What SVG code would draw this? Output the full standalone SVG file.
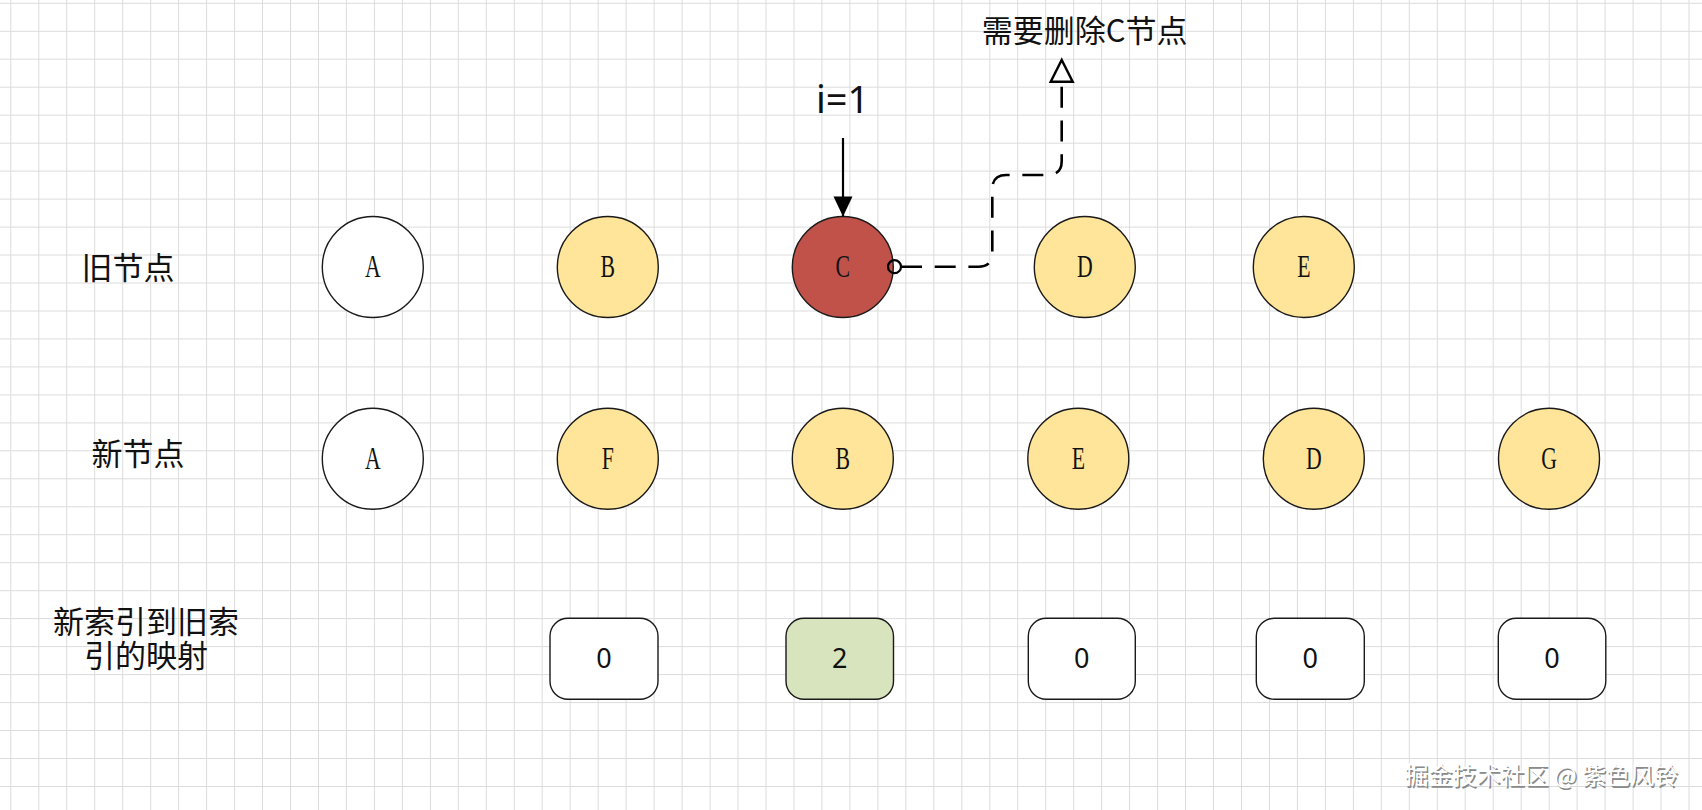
<svg xmlns="http://www.w3.org/2000/svg" width="1702" height="810" viewBox="0 0 1702 810">
<style>
.grid{stroke:#dcdcdc;stroke-width:1;fill:none}
.circ{stroke:#1a1a1a;stroke-width:1.4}
.white{fill:#ffffff}
.yellow{fill:#ffe599}
.red{fill:#c0524a}
.green{fill:#d7e4bd}
.box{stroke:#1a1a1a;stroke-width:1.4}
.letter{font-family:"Liberation Serif",serif;font-size:32px;fill:#111;text-anchor:middle}
.num{font-family:"Noto Sans","Noto Sans CJK SC",sans-serif;font-size:27px;fill:#111;text-anchor:middle}
.cjk{font-family:"Noto Sans CJK SC",sans-serif;font-size:31px;fill:#111;text-anchor:middle}
.big{font-family:"Noto Sans","Noto Sans CJK SC",sans-serif;font-size:38px;fill:#111;text-anchor:middle}
.solid{stroke:#000;stroke-width:2.2;fill:none}
.dashed{stroke:#000;stroke-width:2.6;fill:none;stroke-dasharray:21 12.7}
.wm{font-family:"Noto Sans CJK SC",sans-serif;font-size:24px;text-anchor:end}
</style>
<defs>
<marker id="arrowFilled" markerUnits="userSpaceOnUse" viewBox="-21 -11 23 22" markerWidth="23" markerHeight="22" refX="0" refY="0" orient="auto">
<path d="M-20,-9.5 L0,0 L-20,9.5 Z" fill="#000" stroke="none"/>
</marker>
<marker id="arrowOpen" markerUnits="userSpaceOnUse" viewBox="-3 -14 28 28" markerWidth="28" markerHeight="28" refX="0" refY="0" orient="auto">
<path d="M0,-11 L21.7,0 L0,11 Z" fill="#fff" stroke="#000" stroke-width="2.4" stroke-dasharray="none" stroke-linejoin="miter"/>
</marker>
<marker id="ovalStart" markerUnits="userSpaceOnUse" viewBox="-10 -10 20 20" markerWidth="20" markerHeight="20" refX="6.5" refY="0" orient="auto">
<circle cx="0" cy="0" r="6.5" fill="none" stroke="#000" stroke-width="2.2" stroke-dasharray="none"/>
</marker>
</defs>
<rect width="1702" height="810" fill="#ffffff"/>
<path class="grid" d="M10.8 0V810M38.8 0V810M66.7 0V810M94.7 0V810M122.7 0V810M150.7 0V810M178.6 0V810M206.6 0V810M234.6 0V810M262.5 0V810M290.5 0V810M318.5 0V810M346.4 0V810M374.4 0V810M402.4 0V810M430.4 0V810M458.3 0V810M486.3 0V810M514.3 0V810M542.2 0V810M570.2 0V810M598.2 0V810M626.1 0V810M654.1 0V810M682.1 0V810M710.1 0V810M738 0V810M766 0V810M794 0V810M821.9 0V810M849.9 0V810M877.9 0V810M905.8 0V810M933.8 0V810M961.8 0V810M989.8 0V810M1017.7 0V810M1045.7 0V810M1073.7 0V810M1101.6 0V810M1129.6 0V810M1157.6 0V810M1185.5 0V810M1213.5 0V810M1241.5 0V810M1269.5 0V810M1297.4 0V810M1325.4 0V810M1353.4 0V810M1381.3 0V810M1409.3 0V810M1437.3 0V810M1465.2 0V810M1493.2 0V810M1521.2 0V810M1549.2 0V810M1577.1 0V810M1605.1 0V810M1633.1 0V810M1661 0V810M1689 0V810M0 3.3H1702M0 31.3H1702M0 59.2H1702M0 87.2H1702M0 115.2H1702M0 143.2H1702M0 171.1H1702M0 199.1H1702M0 227.1H1702M0 255H1702M0 283H1702M0 311H1702M0 338.9H1702M0 366.9H1702M0 394.9H1702M0 422.9H1702M0 450.8H1702M0 478.8H1702M0 506.8H1702M0 534.7H1702M0 562.7H1702M0 590.7H1702M0 618.6H1702M0 646.6H1702M0 674.6H1702M0 702.6H1702M0 730.5H1702M0 758.5H1702M0 786.5H1702"/>

<g id="label-old"><text class="cjk" x="128" y="278.5">旧节点</text></g>
<g id="label-new"><text class="cjk" x="138" y="464.6">新节点</text></g>
<g id="label-map"><text class="cjk"><tspan x="146" y="633">新索引到旧索</tspan><tspan x="146" y="667">引的映射</tspan></text></g>
<g id="label-i"><text class="big" x="842.7" y="113.3">i=1</text></g>
<g id="label-delete"><text class="cjk" x="1084.7" y="41.8">需要删除C节点</text></g>

<g id="old-A"><circle class="circ white" cx="372.8" cy="267" r="50.5"/><text class="letter" transform="translate(372.8 277) scale(0.68 1)">A</text></g>
<g id="old-B"><circle class="circ yellow" cx="607.8" cy="267" r="50.5"/><text class="letter" transform="translate(607.8 277) scale(0.68 1)">B</text></g>
<g id="old-C"><circle class="circ red" cx="842.8" cy="267" r="50.5"/><text class="letter" transform="translate(842.8 277) scale(0.68 1)">C</text></g>
<g id="old-D"><circle class="circ yellow" cx="1084.8" cy="267" r="50.5"/><text class="letter" transform="translate(1084.8 277) scale(0.68 1)">D</text></g>
<g id="old-E"><circle class="circ yellow" cx="1303.8" cy="267" r="50.5"/><text class="letter" transform="translate(1303.8 277) scale(0.68 1)">E</text></g>

<g id="new-A"><circle class="circ white" cx="372.8" cy="458.8" r="50.5"/><text class="letter" transform="translate(372.8 468.8) scale(0.68 1)">A</text></g>
<g id="new-F"><circle class="circ yellow" cx="607.8" cy="458.8" r="50.5"/><text class="letter" transform="translate(607.8 468.8) scale(0.68 1)">F</text></g>
<g id="new-B"><circle class="circ yellow" cx="842.8" cy="458.8" r="50.5"/><text class="letter" transform="translate(842.8 468.8) scale(0.68 1)">B</text></g>
<g id="new-E"><circle class="circ yellow" cx="1078.3" cy="458.8" r="50.5"/><text class="letter" transform="translate(1078.3 468.8) scale(0.68 1)">E</text></g>
<g id="new-D"><circle class="circ yellow" cx="1313.8" cy="458.8" r="50.5"/><text class="letter" transform="translate(1313.8 468.8) scale(0.68 1)">D</text></g>
<g id="new-G"><circle class="circ yellow" cx="1549" cy="458.8" r="50.5"/><text class="letter" transform="translate(1549 468.8) scale(0.68 1)">G</text></g>

<g id="map-1"><rect class="box white" x="550" y="618.3" width="108" height="81" rx="18" ry="18"/><text class="num" x="604" y="668">0</text></g>
<g id="map-2"><rect class="box green" x="786" y="618.3" width="107.5" height="81" rx="18" ry="18"/><text class="num" x="839.7" y="668">2</text></g>
<g id="map-3"><rect class="box white" x="1028.3" y="618.3" width="107" height="81" rx="18" ry="18"/><text class="num" x="1081.8" y="668">0</text></g>
<g id="map-4"><rect class="box white" x="1256.3" y="618.3" width="108" height="81" rx="18" ry="18"/><text class="num" x="1310.3" y="668">0</text></g>
<g id="map-5"><rect class="box white" x="1498.3" y="618.3" width="107.5" height="81" rx="18" ry="18"/><text class="num" x="1552" y="668">0</text></g>

<g id="connectors">
<path class="solid" d="M843 138V216.5" marker-end="url(#arrowFilled)"/>
<path class="dashed" d="M901 266.7H978.3Q992.3 266.7 992.3 252.7V189Q992.3 175 1006.3 175H1047.7Q1061.7 175 1061.7 161V81.7" marker-start="url(#ovalStart)" marker-end="url(#arrowOpen)"/>
</g>

<g id="watermark">
<text class="wm" x="1679.5" y="785.5" fill="#8a8a8a">掘金技术社区 @ 紫色风铃</text>
<text class="wm" x="1678" y="784" fill="#ffffff">掘金技术社区 @ 紫色风铃</text>
</g>
</svg>
